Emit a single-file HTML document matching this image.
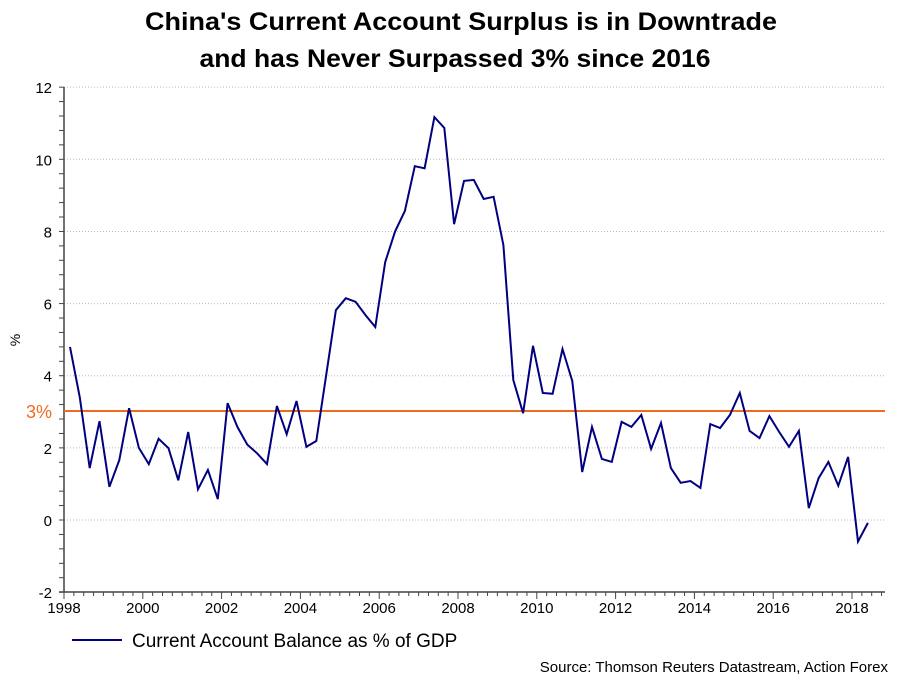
<!DOCTYPE html>
<html><head><meta charset="utf-8"><style>
body{margin:0;background:#fff;}
svg{display:block;font-family:"Liberation Sans",Arial,sans-serif;}
</style></head><body>
<svg id="chart" width="909" height="682">
<text x="461" y="30" text-anchor="middle" font-size="25" font-weight="bold" textLength="632" lengthAdjust="spacingAndGlyphs">China's Current Account Surplus is in Downtrade</text>
<text x="455" y="67" text-anchor="middle" font-size="25" font-weight="bold" textLength="511" lengthAdjust="spacingAndGlyphs">and has Never Surpassed 3% since 2016</text>
<text x="20" y="340" text-anchor="middle" font-size="14" transform="rotate(-90 20 340)">%</text>
<g id="grid"></g><g id="axes"></g>
<line x1="64" x2="885" y1="411" y2="411" stroke="#f26a1b" stroke-width="2"/>
<text x="26" y="418" font-size="18" fill="#f26a1b">3%</text>
<polyline id="series" fill="none" stroke="#000080" stroke-width="2"/>
<line x1="72" x2="122" y1="640" y2="640" stroke="#000080" stroke-width="2"/>
<text x="132" y="647" font-size="19">Current Account Balance as % of GDP</text>
<text x="888" y="672" text-anchor="end" font-size="15">Source: Thomson Reuters Datastream, Action Forex</text>
</svg>
<script>
const yTicks=[-2,0,2,4,6,8,10,12];
const xTickYears=[1998,2000,2002,2004,2006,2008,2010,2012,2014,2016,2018];
const startYear=1998;
const values=[4.8,3.4,1.44,2.74,0.92,1.66,3.1,2.0,1.55,2.25,1.99,1.1,2.44,0.85,1.39,0.58,3.24,2.58,2.09,1.85,1.55,3.16,2.38,3.3,2.03,2.19,4.0,5.82,6.15,6.05,5.68,5.35,7.15,8.0,8.57,9.81,9.75,11.17,10.87,8.2,9.4,9.43,8.9,8.96,7.62,3.88,2.96,4.83,3.52,3.5,4.74,3.85,1.33,2.58,1.69,1.61,2.72,2.58,2.91,1.97,2.69,1.44,1.03,1.08,0.89,2.66,2.55,2.91,3.52,2.47,2.27,2.88,2.44,2.03,2.47,0.33,1.16,1.61,0.95,1.75,-0.6,-0.08];
const NS='http://www.w3.org/2000/svg';
const X=yr=>64+(yr-1998)*39.4;
const Y=v=>520-v*36.07;
const grid=document.getElementById('grid'),axes=document.getElementById('axes');
function mk(tag,attrs,parent){const e=document.createElementNS(NS,tag);for(const k in attrs)e.setAttribute(k,attrs[k]);parent.appendChild(e);return e;}
yTicks.forEach(v=>{
 if(v>-2){const g=mk('line',{x1:64,x2:885,y1:Y(v),y2:Y(v),stroke:'#b8b8b8','stroke-dasharray':'1,2'},grid);
 
 }
 const t=mk('text',{x:52,y:Y(v)+6,'text-anchor':'end','font-size':15},axes);t.textContent=v;
 
 
});
for(let v=-2;v<=12.001;v+=0.4){mk('line',{x1:59,x2:64,y1:Y(v),y2:Y(v),stroke:'#444'},axes);}
for(let q=0;q<=83;q++){const x=64+q*9.85;mk('line',{x1:x,x2:x,y1:592,y2:q%8==0?599:596,stroke:'#444'},axes);}
xTickYears.forEach(yr=>{const t=mk('text',{x:X(yr),y:613,'text-anchor':'middle','font-size':15},axes);t.textContent=yr;
 
 });
const ya=mk('line',{x1:64,x2:64,y1:87,y2:592,stroke:'#444','stroke-width':1.5},axes);


const xa=mk('line',{x1:59,x2:885,y1:592,y2:592,stroke:'#444','stroke-width':1.5},axes);


document.getElementById('series').setAttribute('points',values.map((v,i)=>(X(startYear+i*0.25)+6).toFixed(1)+','+Y(v).toFixed(1)).join(' '));
</script>
</body></html>
